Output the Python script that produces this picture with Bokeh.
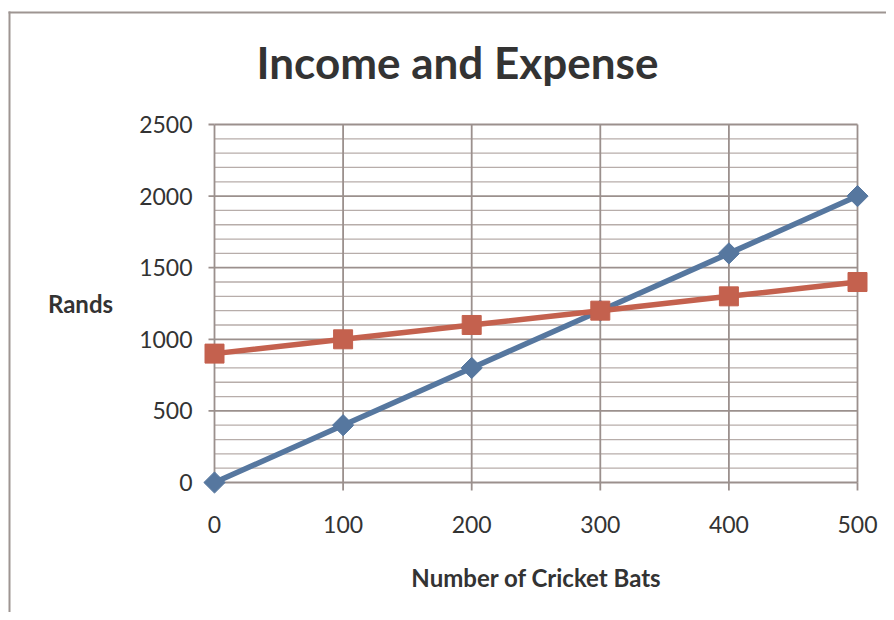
from bokeh.plotting import figure
from bokeh.models import Range1d, ColumnDataSource
from bokeh.core.properties import value
from bokeh.embed import file_html
from bokeh.resources import INLINE
import math

# ---- data ----
bats = [0, 100, 200, 300, 400, 500]
income = [0, 400, 800, 1200, 1600, 2000]
expense = [900, 1000, 1100, 1200, 1300, 1400]
x_ticks = [0, 100, 200, 300, 400, 500]
y_ticks = [0, 500, 1000, 1500, 2000, 2500]
y_grid = list(range(0, 2600, 100))
title_text = "Income and Expense"
x_title = "Number of Cricket Bats"
y_title = "Rands"

BLUE = "#56779f"
RED = "#c4614e"
GRID_MAJ = "#9b908d"
GRID_MIN = "#b7adaa"
BORDER = "#9e9592"
TXT = "#333333"
FONT = value("Lato")

W, H = 886, 612
# plot-area placement inside the canvas (pixels)
PX0, PX1 = 214, 857      # x = 0 .. 500
PY0, PY1 = 482, 124      # y = 0 .. 2500 (from top)

x0, x1 = min(x_ticks), max(x_ticks)
y0, y1 = min(y_ticks), max(y_ticks)
xpx = (x1 - x0) / (PX1 - PX0)
ypx = (y1 - y0) / (PY0 - PY1)

def X(cx):
    return x0 + (cx - PX0) * xpx

def Y(cy):
    return y0 + (PY0 - cy) * ypx

p = figure(width=W, height=H, output_backend="svg", toolbar_location=None,
           x_range=Range1d(X(0), X(W)), y_range=Range1d(Y(H), Y(0)),
           x_axis_location=None, y_axis_location=None, title=None,
           min_border=0, min_border_left=0, min_border_right=0,
           min_border_top=0, min_border_bottom=0)
p.outline_line_color = None
p.grid.visible = False
p.background_fill_color = "white"
p.border_fill_color = "white"

# outer chart border (left and top visible)
p.segment(x0=[X(9)], x1=[X(9)], y0=[Y(11)], y1=[Y(H)], line_color=BORDER, line_width=2)
p.segment(x0=[X(8)], x1=[X(W)], y0=[Y(12)], y1=[Y(12)], line_color=BORDER, line_width=2)

# horizontal grid lines
minor = [v for v in y_grid if v % 500 != 0]
major = [v for v in y_grid if v % 500 == 0]
p.segment(x0=[x0] * len(minor), x1=[x1] * len(minor), y0=minor, y1=minor,
          line_color=GRID_MIN, line_width=1.3)
p.segment(x0=[x0] * len(major), x1=[x1] * len(major), y0=major, y1=major,
          line_color=GRID_MAJ, line_width=1.8)
# vertical grid lines
p.segment(x0=x_ticks, x1=x_ticks, y0=[y0] * len(x_ticks), y1=[y1] * len(x_ticks),
          line_color=GRID_MAJ, line_width=1.8)
# tick marks (outside)
p.segment(x0=[x0 - 6 * xpx] * len(y_ticks), x1=[x0] * len(y_ticks), y0=y_ticks, y1=y_ticks,
          line_color=GRID_MAJ, line_width=1.8)
p.segment(x0=x_ticks, x1=x_ticks, y0=[y0 - 8 * ypx] * len(x_ticks), y1=[y0] * len(x_ticks),
          line_color=GRID_MAJ, line_width=1.8)

# tick labels
p.text(x=[x0 - 22 * xpx] * len(y_ticks), y=y_ticks, text=[str(v) for v in y_ticks],
       text_font=FONT, text_font_size="23px", text_color=TXT,
       text_align="right", text_baseline="middle")
p.text(x=x_ticks, y=[y0 - 42 * ypx] * len(x_ticks), text=[str(v) for v in x_ticks],
       text_font=FONT, text_font_size="23px", text_color=TXT,
       text_align="center", text_baseline="middle")

# series
src = ColumnDataSource(dict(x=bats, inc=income, exp=expense))
p.line("x", "inc", source=src, line_color=BLUE, line_width=5.5)
p.scatter("x", "inc", source=src, marker="square", angle=math.pi / 4, size=15,
          fill_color=BLUE, line_color=BLUE)
p.line("x", "exp", source=src, line_color=RED, line_width=5.5)
p.scatter("x", "exp", source=src, marker="square", size=19,
          fill_color=RED, line_color=RED)

# titles
p.text(x=[X(457)], y=[Y(61)], text=[title_text], text_font=FONT,
       text_font_style="bold", text_font_size="44px", text_color=TXT,
       text_align="center", text_baseline="middle")
p.text(x=[X(80)], y=[Y(303)], text=[y_title], text_font=FONT,
       text_font_style="bold", text_font_size="24px", text_color=TXT,
       text_align="center", text_baseline="middle")
p.text(x=[X(536)], y=[Y(577)], text=[x_title], text_font=FONT,
       text_font_style="bold", text_font_size="24px", text_color=TXT,
       text_align="center", text_baseline="middle")

open("out.html", "w").write(file_html(p, INLINE))
